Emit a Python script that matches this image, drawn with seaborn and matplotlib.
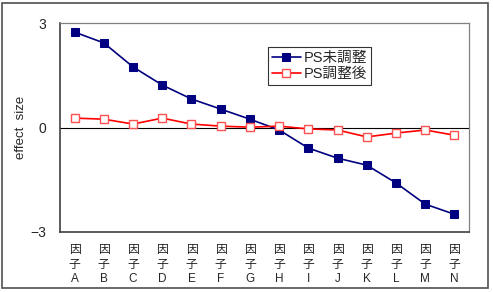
import matplotlib
matplotlib.use("Agg")
import matplotlib.pyplot as plt
import seaborn as sns
import pandas as pd
from matplotlib.patches import Rectangle

# data
factors = list("ABCDEFGHIJKLMN")
unadjusted = [2.74, 2.43, 1.74, 1.22, 0.82, 0.53, 0.24, -0.07, -0.59, -0.88, -1.08, -1.59, -2.20, -2.49]
adjusted = [0.27, 0.24, 0.10, 0.27, 0.10, 0.04, 0.01, 0.04, -0.04, -0.07, -0.27, -0.16, -0.07, -0.22]
series_names = ["PS未調整", "PS調整後"]
y_ticks = [-3, 0, 3]

sns.set_style("white")
plt.rcParams['font.family'] = ['Liberation Sans', 'Noto Sans CJK JP', 'DejaVu Sans']

df = pd.DataFrame({"x": list(range(len(factors))) * 2,
                   "value": unadjusted + adjusted,
                   "series": [series_names[0]] * len(factors) + [series_names[1]] * len(factors)})

fig = plt.figure(figsize=(4.93, 2.92), dpi=100)
ax = fig.add_axes([0.1217, 0.2055, 0.8296, 0.7155])

sns.lineplot(data=df[df.series == series_names[0]], x="x", y="value", ax=ax,
             color="#000080", marker="s", markersize=6, markeredgecolor="#000080",
             linewidth=1.2, label=series_names[0])
sns.lineplot(data=df[df.series == series_names[1]], x="x", y="value", ax=ax,
             color="#FF0000", marker="s", markersize=6, markerfacecolor="white",
             markeredgecolor="#FF5050", markeredgewidth=1.0,
             linewidth=1.2, label=series_names[1])

ax.axhline(0, color="black", linewidth=0.8, zorder=0)
ax.set_xlim(-0.5, len(factors) - 0.5)
ax.set_ylim(-3, 3)
ax.set_yticks(y_ticks)
ax.set_yticklabels(["\u22123", "0", "3"], fontsize=10)
ax.tick_params(axis="y", length=0, pad=10)

ax.set_xticks(range(len(factors)))
ax.set_xticklabels(["因\n子\n" + f for f in factors], fontsize=8.5, linespacing=1.24)
ax.tick_params(axis="x", which="major", length=0, pad=9)
ax.set_xticks([i + 0.5 for i in range(len(factors) - 1)], minor=True)
ax.tick_params(axis="x", which="minor", direction="in", length=3, color="#555555")

ax.set_xlabel("")
ax.set_ylabel("effect  size", fontsize=9.5, labelpad=2)

for side in ["top", "right"]:
    ax.spines[side].set_color("#808080")
    ax.spines[side].set_linewidth(0.9)
for side in ["left", "bottom"]:
    ax.spines[side].set_color("#404040")
    ax.spines[side].set_linewidth(1.2)

leg = ax.legend(loc="upper left", bbox_to_anchor=(0.509, 0.885), fontsize=10.5,
                frameon=True, fancybox=False, edgecolor="black", borderpad=0.25,
                handlelength=2.0, handletextpad=0.2, labelspacing=0.15, borderaxespad=0)
leg.get_frame().set_linewidth(0.8)

fig.patches.append(Rectangle((0.005, 0.012), 0.985, 0.978, transform=fig.transFigure,
                             fill=False, edgecolor="#505050", linewidth=1.2))

fig.savefig("out.png", dpi=100)
